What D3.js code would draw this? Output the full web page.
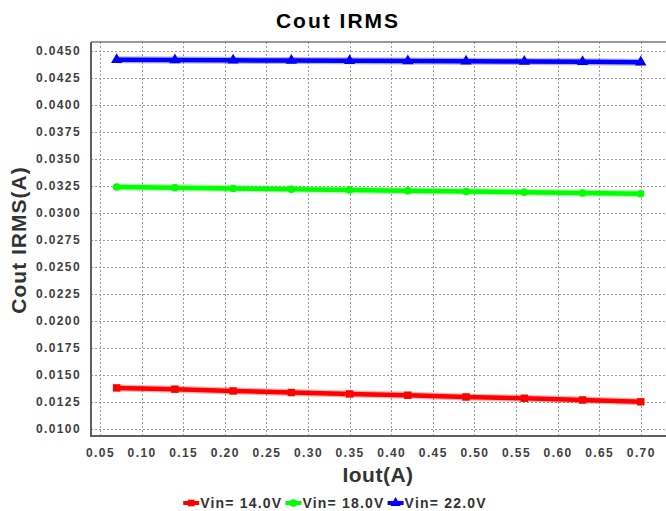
<!DOCTYPE html>
<html>
<head>
<meta charset="utf-8">
<script src="https://cdn.jsdelivr.net/npm/d3@7"></script>
<style>
  html, body { margin: 0; padding: 0; background: #fff; }
  svg { display: block; font-family: "Liberation Sans", Arial, sans-serif; }
</style>
</head>
<body>
<svg id="chart" width="666" height="511"></svg>
<script>
// Output current (A) at which each curve was sampled
const iout = [0.07, 0.14, 0.21, 0.28, 0.35, 0.42, 0.49, 0.56, 0.63, 0.70];

// Output capacitor RMS current (A) per input voltage
const vin14 = [0.01377, 0.01365, 0.01349, 0.01334, 0.01321, 0.01309, 0.01293, 0.01281, 0.01265, 0.01248];
const vin18 = [0.03238, 0.03231, 0.03225, 0.03218, 0.03210, 0.03203, 0.03197, 0.03190, 0.03183, 0.03176];
const vin22 = [0.04416, 0.04414, 0.04412, 0.04409, 0.04407, 0.04405, 0.04403, 0.04400, 0.04398, 0.04395];

const seriesNames = ["Vin= 14.0V", "Vin= 18.0V", "Vin= 22.0V"];
const seriesColors = ["#ff0000", "#00ff00", "#0000ff"];
const seriesSymbols = [d3.symbolSquare, d3.symbolCircle, d3.symbolTriangle];

const xTicks = [0.05, 0.10, 0.15, 0.20, 0.25, 0.30, 0.35, 0.40, 0.45, 0.50, 0.55, 0.60, 0.65, 0.70];
const yTicks = [0.0100, 0.0125, 0.0150, 0.0175, 0.0200, 0.0225, 0.0250, 0.0275, 0.0300,
                0.0325, 0.0350, 0.0375, 0.0400, 0.0425, 0.0450];

const chartTitle = "Cout IRMS";
const xTitle = "Iout(A)";
const yTitle = "Cout IRMS(A)";

const series = [vin14, vin18, vin22].map((vals, i) => ({
  name: seriesNames[i],
  color: seriesColors[i],
  symbol: seriesSymbols[i],
  points: vals.map((v, j) => ({ x: iout[j], y: v }))
}));

const svg = d3.select("#chart");
const plot = { left: 91, top: 42, right: 666, bottom: 436 };

const x = d3.scaleLinear().domain([0.03918, 0.7303]).range([plot.left, plot.right]);
const y = d3.scaleLinear().domain([0.009314, 0.045815]).range([plot.bottom, plot.top]);

// dotted grid
const grid = svg.append("g");
grid.selectAll("line.v").data(xTicks).join("line")
  .attr("x1", d => Math.round(x(d)) + 0.5).attr("x2", d => Math.round(x(d)) + 0.5)
  .attr("y1", plot.top).attr("y2", plot.bottom)
  .attr("stroke", "#9a9a9a").attr("stroke-width", 1).attr("stroke-dasharray", "2,2");
grid.selectAll("line.h").data(yTicks).join("line")
  .attr("x1", plot.left).attr("x2", plot.right)
  .attr("y1", d => Math.round(y(d)) + 0.5).attr("y2", d => Math.round(y(d)) + 0.5)
  .attr("stroke", "#9a9a9a").attr("stroke-width", 1).attr("stroke-dasharray", "2,2");

// axes
const xAxis = d3.axisBottom(x).tickValues(xTicks).tickFormat(d3.format(".2f")).tickSize(0).tickPadding(12);
const yAxis = d3.axisLeft(y).tickValues(yTicks).tickFormat(d3.format(".4f")).tickSize(0).tickPadding(10);

const gx = svg.append("g").attr("transform", `translate(0,${plot.bottom})`).call(xAxis);
const gy = svg.append("g").attr("transform", `translate(${plot.left},0)`).call(yAxis);
[gx, gy].forEach(g => {
  g.select(".domain").remove();
  g.selectAll("text")
    .attr("fill", "#404040")
    .style("font-size", "12px")
    .style("font-weight", "bold")
    .style("letter-spacing", "1.4px");
});

// frame
svg.append("line").attr("x1", plot.left).attr("x2", plot.right).attr("y1", plot.top).attr("y2", plot.top)
  .attr("stroke", "#7a7a7a").attr("stroke-width", 1.5);
svg.append("line").attr("x1", plot.left).attr("x2", plot.left).attr("y1", plot.top).attr("y2", plot.bottom)
  .attr("stroke", "#606060").attr("stroke-width", 2);
svg.append("line").attr("x1", plot.left - 1).attr("x2", plot.right).attr("y1", plot.bottom).attr("y2", plot.bottom)
  .attr("stroke", "#606060").attr("stroke-width", 2);

// series lines with a soft halo and markers
const line = d3.line().x(d => x(d.x)).y(d => y(d.y));
const lines = svg.append("g");
series.forEach(s => {
  lines.append("path").datum(s.points).attr("d", line)
    .attr("fill", "none").attr("stroke", s.color).attr("stroke-opacity", 0.3)
    .attr("stroke-width", 7).attr("stroke-linecap", "butt");
  lines.append("path").datum(s.points).attr("d", line)
    .attr("fill", "none").attr("stroke", s.color)
    .attr("stroke-width", 4.5).attr("stroke-linecap", "butt");
  lines.selectAll(null).data(s.points).join("path")
    .attr("transform", d => `translate(${x(d.x)},${y(d.y)})`)
    .attr("d", d3.symbol().type(s.symbol).size(s.symbol === d3.symbolCircle ? 45 : 55))
    .attr("fill", s.color);
});

// titles
svg.append("text").attr("x", 338).attr("y", 28)
  .attr("text-anchor", "middle").attr("fill", "#000")
  .style("font-size", "21px").style("font-weight", "bold").style("letter-spacing", "2px")
  .text(chartTitle);
svg.append("text").attr("x", 378).attr("y", 482)
  .attr("text-anchor", "middle").attr("fill", "#333")
  .style("font-size", "21px").style("font-weight", "bold").style("letter-spacing", "0.5px")
  .text(xTitle);
svg.append("text").attr("transform", "translate(26,240) rotate(-90)")
  .attr("text-anchor", "middle").attr("fill", "#333")
  .style("font-size", "21px").style("font-weight", "bold").style("letter-spacing", "1px")
  .text(yTitle);

// legend
const legend = svg.append("g");
const items = series.map(s => {
  const g = legend.append("g");
  g.append("line").attr("x1", 0).attr("x2", 16).attr("y1", 0).attr("y2", 0)
    .attr("stroke", s.color).attr("stroke-width", 4);
  g.append("path").attr("transform", "translate(8,0)")
    .attr("d", d3.symbol().type(s.symbol).size(45)).attr("fill", s.color);
  const t = g.append("text").attr("x", 17).attr("y", 5)
    .attr("fill", "#333")
    .style("font-size", "14px").style("font-weight", "bold").style("letter-spacing", "1.2px")
    .text(s.name);
  return { g, w: 17 + t.node().getComputedTextLength() };
});
const gap = 3;
const total = d3.sum(items, d => d.w) + gap * (items.length - 1);
let cx = 335 - total / 2;
items.forEach(it => {
  it.g.attr("transform", `translate(${cx},503)`);
  cx += it.w + gap;
});
</script>
</body>
</html>
